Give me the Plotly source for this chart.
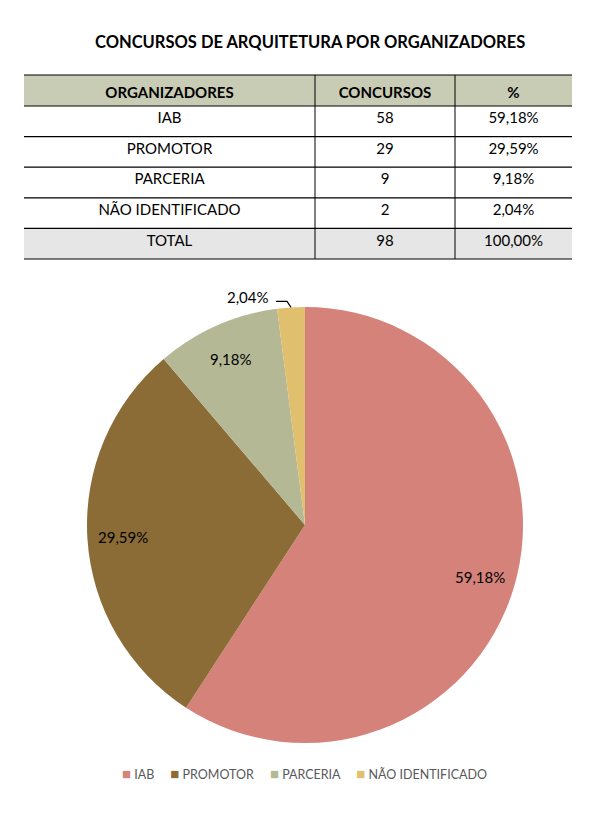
import math
import plotly.graph_objects as go

# data
organizadores = ["IAB", "PROMOTOR", "PARCERIA", "NÃO IDENTIFICADO"]
concursos = [58, 29, 9, 2]
colors = ["#d4827a", "#8b6c36", "#b5b894", "#e0bf6e"]
col_headers = ["ORGANIZADORES", "CONCURSOS", "%"]

# page body has an 8px margin, so the figure is a bit smaller than the window
OFF = 8
W, H = 599 - OFF, 821 - OFF
total = sum(concursos)
pcts = [v / total * 100 for v in concursos]


def px(x):
    return (x - OFF) / W


def py(y):
    return 1 - (y - OFF) / H


def fmt_pct(p):
    return f"{p:.2f}".replace(".", ",") + "%"


col_org = organizadores + ["TOTAL"]
col_num = [str(v) for v in concursos] + [str(total)]
col_pct = [fmt_pct(p) for p in pcts] + [fmt_pct(100)]

FONT = "Lato"
GREY = "#e6e6e6"
cell_font = dict(family=FONT, size=15, color="black")

# table geometry (px)
tx0, tx1 = 24, 572
ty0, head_h, row_h = 75, 31, 30.6
n_body = len(col_org)
b_top = ty0 + head_h
t_bot = b_top + n_body * row_h
col_w = [291, 140, 117]
body_lift = 2  # body text sits a little above the middle of its row

fig = go.Figure()

# body rows; its own (blank) header is hidden under the real header table
bt = b_top - row_h - body_lift
fig.add_trace(go.Table(
    domain=dict(x=[px(tx0), px(tx1)], y=[py(bt + (n_body + 1) * row_h), py(bt)]),
    columnwidth=col_w,
    header=dict(values=["", "", ""], fill_color="white", line=dict(width=0), height=row_h),
    cells=dict(
        values=[col_org, col_num, col_pct],
        fill_color=[["white"] * (n_body - 1) + ["rgba(0,0,0,0)"]],
        line=dict(width=0),
        align="center", height=row_h, font=cell_font,
    ),
))

# header row
fig.add_trace(go.Table(
    domain=dict(x=[px(tx0), px(tx1)], y=[py(b_top), py(ty0)]),
    columnwidth=col_w,
    header=dict(
        values=[f"<b>{h}</b>" for h in col_headers],
        fill_color="#c9ccb5", line=dict(width=0),
        align="center", height=head_h, font=cell_font,
    ),
    cells=dict(values=[]),
))

# pie geometry (px)
cx, cy, R = 305, 525, 218
fig.add_trace(go.Pie(
    labels=organizadores, values=concursos, sort=False,
    direction="clockwise", rotation=0,
    marker=dict(colors=colors, line=dict(width=0)),
    textinfo="none", hoverinfo="label+value+percent",
    showlegend=False,
    domain=dict(x=[px(cx - R), px(cx + R)], y=[py(cy + R), py(cy - R)]),
))

shapes = []
# grey background of the total row
shapes.append(dict(type="rect", xref="paper", yref="paper", x0=px(tx0), x1=px(tx1),
                   y0=py(t_bot), y1=py(t_bot - row_h),
                   fillcolor=GREY, line=dict(width=0), layer="below"))
# table rules
rule_ys = [ty0] + [b_top + i * row_h for i in range(n_body + 1)]
for yy in rule_ys:
    shapes.append(dict(type="line", xref="paper", yref="paper", x0=px(tx0), x1=px(tx1),
                       y0=py(yy), y1=py(yy), line=dict(color="black", width=1.2), layer="above"))
xacc = tx0
scale = (tx1 - tx0) / sum(col_w)
for w in col_w[:-1]:
    xacc += w * scale
    shapes.append(dict(type="line", xref="paper", yref="paper", x0=px(xacc), x1=px(xacc),
                       y0=py(ty0), y1=py(t_bot),
                       line=dict(color="black", width=1), layer="above"))

# data labels
annotations = []
cum = 0
for lab, p in zip(organizadores, pcts):
    mid = (cum + p / 2) / 100 * 2 * math.pi
    cum += p
    s, c = math.sin(mid), -math.cos(mid)
    if p > 5:
        r = 0.835 * R
        annotations.append(dict(x=px(cx + r * s), y=py(cy + r * c), xref="paper", yref="paper",
                                xanchor="center", yanchor="middle",
                                text=fmt_pct(p), showarrow=False,
                                font=dict(family=FONT, size=15, color="black")))
    else:
        ex, ey = cx + R * s, cy + R * c
        kx, ky = ex - 4, ey - 6
        lx = kx - 11
        shapes.append(dict(type="path", xref="paper", yref="paper",
                           path=f"M {px(ex)},{py(ey)} L {px(kx)},{py(ky)} L {px(lx)},{py(ky)}",
                           line=dict(color="black", width=1.2)))
        annotations.append(dict(x=px(lx - 5), y=py(ky - 4), xref="paper", yref="paper",
                                xanchor="right", yanchor="middle", text=fmt_pct(p), showarrow=False,
                                font=dict(family=FONT, size=15, color="black")))

annotations.append(dict(x=px(310), y=py(42), xref="paper", yref="paper",
                        xanchor="center", yanchor="middle",
                        text="<b>CONCURSOS DE ARQUITETURA POR ORGANIZADORES</b>", showarrow=False,
                        font=dict(family=FONT, size=16.5, color="black")))

# legend line
legend_text = "&nbsp;&nbsp;&nbsp;&nbsp;&nbsp;".join(
    f'<span style="color:{col};font-size:15px">■</span> {lab}' for lab, col in zip(organizadores, colors)
)
annotations.append(dict(x=px(304), y=py(773), xref="paper", yref="paper",
                        xanchor="center", yanchor="middle", text=legend_text, showarrow=False,
                        font=dict(family=FONT, size=12.5, color="#595959")))

fig.update_layout(
    width=W, height=H,
    margin=dict(l=0, r=0, t=0, b=0),
    paper_bgcolor="white", plot_bgcolor="white",
    shapes=shapes, annotations=annotations,
    showlegend=False,
)

fig.write_html("out.html")
